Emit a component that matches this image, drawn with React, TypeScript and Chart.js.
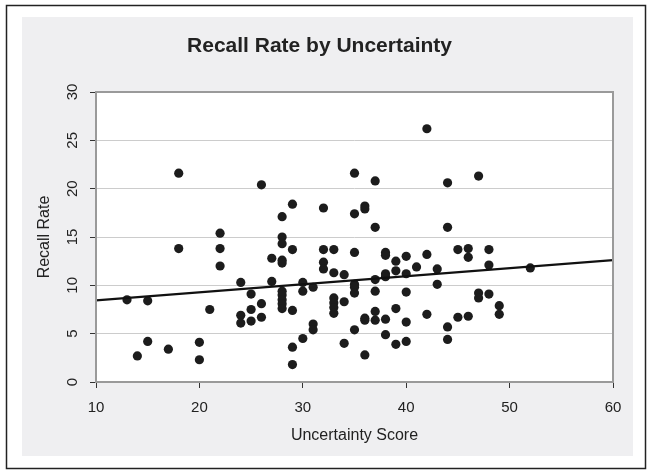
import React, { useEffect, useRef } from "react";
import { Chart, registerables } from "chart.js";

Chart.register(...registerables);

const uncertaintyScores = [
  18, 26, 22, 22, 22, 18, 27, 24, 27, 13, 15, 21, 25, 25, 24, 24, 25, 26, 26, 15, 14, 17, 20, 20,
  42, 29, 28, 32, 35, 37, 35, 36, 36, 37, 28, 28, 28, 28, 29, 32, 33, 32, 32, 33, 34, 35, 38, 38,
  39, 40, 42, 41, 38, 38, 39, 40, 37, 30, 30, 31, 28, 28, 28, 28, 28, 29, 33, 33, 33, 33, 34, 35,
  35, 35, 37, 36, 36, 37, 37, 38, 39, 40, 40, 42, 31, 31, 30, 29, 29, 34, 35, 36, 38, 39, 40,
  44, 47, 44, 43, 43, 45, 46, 46, 48, 48, 52, 47, 47, 48, 49, 49, 45, 46, 44, 44,
];
const recallRates = [
  21.6, 20.4, 15.4, 13.8, 12.0, 13.8, 12.8, 10.3, 10.4, 8.5, 8.4, 7.5, 9.1, 7.5, 6.9, 6.1, 6.3, 8.1, 6.7, 4.2, 2.7, 3.4, 4.1, 2.3,
  26.2, 18.4, 17.1, 18.0, 21.6, 20.8, 17.4, 18.2, 17.9, 16.0, 15.0, 14.3, 12.6, 12.3, 13.7, 13.7, 13.7, 12.4, 11.7, 11.3, 11.1, 13.4, 13.4, 13.1,
  12.5, 13.0, 13.2, 11.9, 11.2, 10.9, 11.5, 11.2, 10.6, 10.3, 9.4, 9.8, 9.4, 9.0, 8.5, 8.1, 7.6, 7.4, 8.7, 8.2, 7.7, 7.1, 8.3, 10.1,
  9.8, 9.2, 9.4, 6.6, 6.4, 7.3, 6.4, 6.5, 7.6, 9.3, 6.2, 7.0, 6.0, 5.4, 4.5, 3.6, 1.8, 4.0, 5.4, 2.8, 4.9, 3.9, 4.2,
  20.6, 21.3, 16.0, 11.7, 10.1, 13.7, 13.8, 12.9, 13.7, 12.1, 11.8, 9.2, 8.7, 9.1, 7.9, 7.0, 6.7, 6.8, 5.7, 4.4,
];
const trendX = [10, 60];
const trendY = [8.45, 12.6];
const xTicks = [10, 20, 30, 40, 50, 60];
const yTicks = [0, 5, 10, 15, 20, 25, 30];

const FONT = "'Liberation Sans', Arial, Helvetica, sans-serif";

const framePlugin = {
  id: "frame",
  beforeDraw(chart: any) {
    const { ctx, chartArea } = chart;
    ctx.save();
    ctx.fillStyle = "#ffffff";
    ctx.fillRect(0, 0, chart.width, chart.height);
    ctx.strokeStyle = "#222222";
    ctx.lineWidth = 1.5;
    ctx.strokeRect(6.5, 5.5, 639, 463);
    ctx.fillStyle = "#efeff1";
    ctx.fillRect(22, 17, 611, 439);
    ctx.fillStyle = "#ffffff";
    ctx.fillRect(chartArea.left, chartArea.top, chartArea.right - chartArea.left, chartArea.bottom - chartArea.top);
    ctx.restore();
  },
  afterDraw(chart: any) {
    const { ctx, chartArea } = chart;
    ctx.save();
    ctx.strokeStyle = "#9a9a9a";
    ctx.lineWidth = 2;
    ctx.strokeRect(chartArea.left, chartArea.top, chartArea.right - chartArea.left, chartArea.bottom - chartArea.top);
    ctx.restore();
  },
};

export default function App() {
  const ref = useRef<HTMLCanvasElement | null>(null);
  useEffect(() => {
    if (!ref.current) return;
    const points = uncertaintyScores.map((x, i) => ({ x, y: recallRates[i] }));
    const trend = trendX.map((x, i) => ({ x, y: trendY[i] }));
    const chart = new Chart(ref.current, {
      type: "scatter",
      data: {
        datasets: [
          {
            label: "Recall Rate",
            data: points,
            backgroundColor: "#1c1c1c",
            borderWidth: 0,
            pointRadius: 4.6,
            order: 2,
          },
          {
            type: "line",
            label: "Trend",
            data: trend,
            borderColor: "#111111",
            borderWidth: 2.2,
            pointRadius: 0,
            fill: false,
            order: 1,
          } as any,
        ],
      },
      options: {
        animation: false,
        responsive: false,
        devicePixelRatio: 1,
        layout: { padding: { left: 26, right: 39, top: 0, bottom: 20 } },
        plugins: {
          legend: { display: false },
          tooltip: { enabled: false },
          title: {
            display: true,
            text: "Recall Rate by Uncertainty",
            color: "#222222",
            font: { family: FONT, size: 21, weight: "bold" },
            padding: { top: 34, bottom: 32.8 },
          },
        },
        scales: {
          x: {
            type: "linear",
            min: 10,
            max: 60,
            afterBuildTicks: (s: any) => {
              s.ticks = xTicks.map((v) => ({ value: v }));
            },
            afterFit: (s: any) => {
              s.height = 72;
            },
            grid: { drawOnChartArea: false, tickLength: 6, tickColor: "#333333", tickWidth: 1 },
            border: { display: false },
            ticks: { color: "#222222", font: { family: FONT, size: 15 }, padding: 11, maxRotation: 0 },
            title: {
              display: true,
              text: "Uncertainty Score",
              color: "#222222",
              font: { family: FONT, size: 16 },
              padding: { top: 0, bottom: 8.4 },
            },
          },
          y: {
            type: "linear",
            min: 0,
            max: 30,
            afterBuildTicks: (s: any) => {
              s.ticks = yTicks.map((v) => ({ value: v }));
            },
            afterFit: (s: any) => {
              s.width = 70;
            },
            grid: { color: "#cccccc", lineWidth: 1, tickLength: 6, tickColor: "#333333", tickWidth: 1 },
            border: { display: false },
            ticks: {
              color: "#222222",
              font: { family: FONT, size: 15 },
              padding: 9,
              minRotation: 90,
              maxRotation: 90,
              crossAlign: "center",
            },
            title: {
              display: true,
              text: "Recall Rate",
              color: "#222222",
              font: { family: FONT, size: 16 },
              padding: { top: 9.4, bottom: 0 },
            },
          },
        },
      },
      plugins: [framePlugin],
    });
    return () => chart.destroy();
  }, []);
  return (
    <div style={{ position: "absolute", left: 0, top: 0, width: 652, height: 474 }}>
      <canvas ref={ref} width={652} height={474} style={{ display: "block", width: 652, height: 474 }} />
    </div>
  );
}
